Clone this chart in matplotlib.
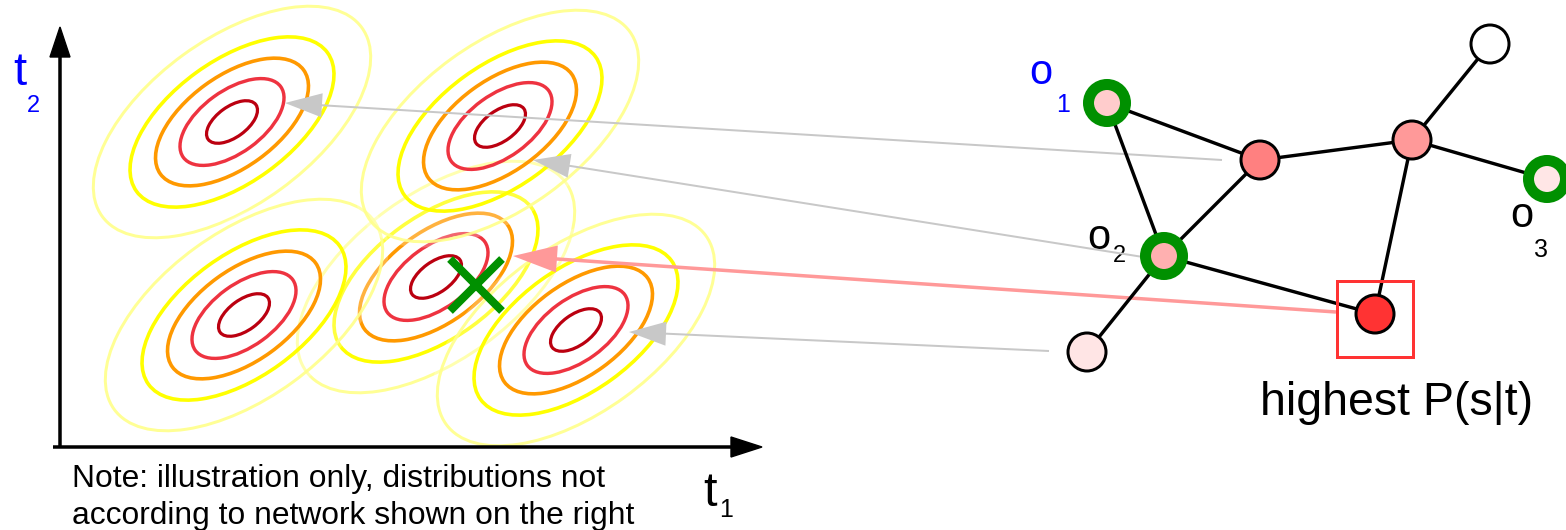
import matplotlib
matplotlib.use("Agg")
import matplotlib.pyplot as plt
from matplotlib.patches import Ellipse, Circle, Rectangle

plt.rcParams['font.family'] = ['Liberation Sans', 'DejaVu Sans']

W, H = 1566, 530
PX = 0.72  # points per pixel at dpi 100

# ---- Gaussian "distributions" in the (t1, t2) plane (pixel coordinates) ----
group_cx = [232, 500, 244, 436, 576]
group_cy = [122, 126, 315, 277, 330]
draw_order = [3, 0, 2, 1, 4]
semi_major = 118
semi_minor = 61
tilt_deg = 36
level_scales = [1.36, 1.0, 0.75, 0.51, 0.25]
level_colors = ['#ffff8a', '#ffff00', '#ff9900', '#ee3340', '#bb0010']
level_widths_px = [3.0, 3.6, 3.6, 3.4, 3.2]

# ---- network on the right ----
node_x = [1107, 1260, 1412, 1490, 1547, 1164, 1375, 1087]
node_y = [103, 160, 140, 44, 179, 256, 314, 352]
node_fill = ['#ffcccc', '#ff8080', '#ff9999', '#ffffff', '#ffe6e6', '#ffb0b0', '#ff3333', '#ffe5e5']
node_observed = [True, False, False, False, True, True, False, False]
edges = [(0, 1), (0, 5), (1, 5), (1, 2), (2, 3), (2, 4), (2, 6), (5, 6), (5, 7)]

# ---- links network -> distributions ----
link_x0 = [1222, 1143, 1049, 1336]
link_y0 = [160, 257, 351, 312]
link_x1 = [285, 533, 629, 513]
link_y1 = [103, 160, 332, 256]
link_colors = ['#c8c8c8', '#c8c8c8', '#c8c8c8', '#ff9999']
link_shaft_px = [2, 2, 2, 3.5]
link_head_len = [37, 37, 37, 44]
link_head_w = [24, 24, 24, 27]

fig = plt.figure(figsize=(W / 100, H / 100), dpi=100)
ax = fig.add_axes([0, 0, 1, 1])
ax.set_xlim(0, W)
ax.set_ylim(H, 0)
ax.axis('off')

# distributions
z = 1
for g in draw_order:
    cx, cy = group_cx[g], group_cy[g]
    # semi-transparent backdrop (image-like layering)
    ax.add_patch(Ellipse((cx, cy), 2 * semi_major * level_scales[0] + 12,
                         2 * semi_minor * level_scales[0] + 12, angle=-tilt_deg,
                         facecolor='white', edgecolor='none', alpha=0.25, zorder=z))
    z += 1
    for s, c, lw in zip(level_scales, level_colors, level_widths_px):
        ax.add_patch(Ellipse((cx, cy), 2 * semi_major * s, 2 * semi_minor * s,
                             angle=-tilt_deg, fill=False, edgecolor=c,
                             linewidth=lw * PX, alpha=0.9 if s == level_scales[0] else 1.0,
                             zorder=z))
    z += 1

# coordinate axes
ax.plot([60, 60], [448, 50], color='black', lw=3.5 * PX, zorder=20, solid_capstyle='butt')
ax.add_patch(plt.Polygon([[50, 57], [70, 57], [60, 27]], closed=True, color='black', zorder=20))
ax.plot([53, 735], [447, 447], color='black', lw=3.5 * PX, zorder=20, solid_capstyle='butt')
ax.add_patch(plt.Polygon([[731, 437], [731, 457], [762, 447]], closed=True, color='black', zorder=20))

# links
for x0, y0, x1, y1, c, sw, hl, hw in zip(link_x0, link_y0, link_x1, link_y1, link_colors,
                                         link_shaft_px, link_head_len, link_head_w):
    ax.arrow(x0, y0, x1 - x0, y1 - y0, width=sw, head_width=hw, head_length=hl,
             length_includes_head=True, color=c, linewidth=0, zorder=25)

# green cross: most likely point
ax.plot([476], [285], marker='x', markersize=37, mew=5.8, color='#009000', zorder=30)

# network edges
for a, b in edges:
    ax.plot([node_x[a], node_x[b]], [node_y[a], node_y[b]], color='black',
            lw=3.4 * PX, zorder=40, solid_capstyle='butt')
# nodes
for x, y, f, obs in zip(node_x, node_y, node_fill, node_observed):
    if obs:
        ax.add_patch(Circle((x, y), 18.5, facecolor=f, edgecolor='#009000',
                            linewidth=11 * PX, zorder=45))
    else:
        ax.add_patch(Circle((x, y), 19, facecolor=f, edgecolor='black',
                            linewidth=3 * PX, zorder=45))

# highlight box
ax.add_patch(Rectangle((1337, 281), 76, 76, fill=False, edgecolor='#ff3333',
                       linewidth=3 * PX, zorder=46))

# labels
ax.text(13, 85, 't', color='#0000ff', fontsize=34, va='baseline', ha='left')
ax.text(27, 112, '2', color='#0000ff', fontsize=17, va='baseline', ha='left')
ax.text(703, 506, 't', color='black', fontsize=35, va='baseline', ha='left')
ax.text(719, 517, '1', color='black', fontsize=18, va='baseline', ha='left')

ax.text(1029, 84, 'o', color='#0000ff', fontsize=30, va='baseline', ha='left')
ax.text(1056, 112, '1', color='#0000ff', fontsize=18, va='baseline', ha='left')
ax.text(1087, 249, 'o', color='black', fontsize=30, va='baseline', ha='left')
ax.text(1113, 262, '2', color='black', fontsize=17, va='baseline', ha='left')
ax.text(1510, 227, 'o', color='black', fontsize=30, va='baseline', ha='left')
ax.text(1534, 257, '3', color='black', fontsize=18, va='baseline', ha='left')

ax.text(1260, 415, 'highest P(s|t)', color='black', fontsize=33.5, va='baseline', ha='left')
ax.text(72, 487, 'Note: illustration only, distributions not', color='black',
        fontsize=22.9, va='baseline', ha='left')
ax.text(72, 524, 'according to network shown on the right', color='black',
        fontsize=22.9, va='baseline', ha='left')

fig.savefig('out.png', dpi=100)
